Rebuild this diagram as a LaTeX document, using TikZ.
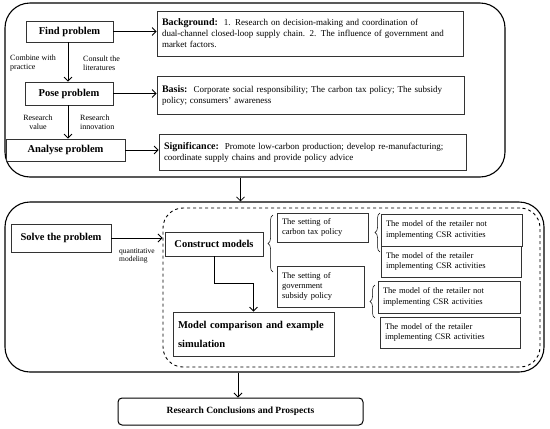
\documentclass[tikz,border=0pt]{standalone}
\usepackage{fontspec}
\setmainfont{Liberation Serif}
\usetikzlibrary{arrows.meta,decorations.pathreplacing,calc}
\begin{document}
\begin{tikzpicture}[x=1pt,y=-1pt,
  box/.style={draw=black!80,line width=0.8pt,inner sep=0pt,anchor=center},
  outer/.style={draw=black,line width=1.1pt,rounded corners=25pt,inner sep=0pt},
  arr/.style={line width=0.8pt,-{Straight Barb[length=4pt,width=8pt]}},
  lbl/.style={font=\fontsize{8}{9}\selectfont,align=left,inner sep=0pt},
  txt/.style={font=\fontsize{9}{11}\selectfont,align=left},
  bt/.style={font=\fontsize{10.5}{12}\selectfont\bfseries},
  brc/.style={decorate,decoration={brace,amplitude=5pt},line width=0.5pt}]
\useasboundingbox (0,0) rectangle (550,429);
% outer frames
\node[outer,minimum width=500pt,minimum height=174pt] (top) at (255,90) {};
\node[outer,minimum width=539pt,minimum height=170pt] (bot) at (274.5,287) {};
\node[draw,dashed,line width=0.9pt,rounded corners=20pt,minimum width=377pt,minimum height=159pt,inner sep=0pt] (dash) at (351.5,287.5) {};
% top part
\node[box,minimum width=87pt,minimum height=21pt,bt] (find) at (69.5,31.5) {Find problem};
\node[box,minimum width=88pt,minimum height=23pt,bt] (pose) at (69,93.5) {Pose problem};
\node[box,minimum width=119pt,minimum height=22pt,bt] (ana) at (65.5,150) {Analyse problem};
\node[box,minimum width=306pt,minimum height=45pt,txt,text width=296pt] (bg) at (310,33.5)
  {\textbf{\fontsize{10}{11}\selectfont Background:}\ \ 1. Research on decision-making and coordination of\\dual-channel closed-loop supply chain. 2. The influence of government and\\market factors.};
\node[box,minimum width=307pt,minimum height=38pt,txt,text width=297pt] (basis) at (310.5,95)
  {\textbf{\fontsize{10}{11}\selectfont Basis:}\ \ Corporate social responsibility; The carbon tax policy; The subsidy\\policy; consumers' awareness};
\node[box,minimum width=307pt,minimum height=36pt,txt,text width=297pt] (sig) at (312.5,152)
  {\textbf{\fontsize{10}{11}\selectfont Significance:}\ \ Promote low-carbon production; develop re-manufacturing;\\coordinate supply chains and provide policy advice};
\draw[arr] (find.east) -- (bg.west |- find.east);
\draw[arr] (pose.east) -- (basis.west |- pose.east);
\draw[arr] (ana.east) -- (sig.west |- ana.east);
\draw[arr] (find.south -| 68,0) -- (pose.north -| 68,0);
\draw[arr] (pose.south -| 68,0) -- (ana.north -| 68,0);
\node[lbl,anchor=west] (l1) at (10,63.5) {Combine with\\practice};
\node[lbl,anchor=west] (l2) at (83,63.5) {Consult the\\literatures};
\node[lbl,align=center] (l3) at (38,122) {Research\\value};
\node[lbl,anchor=west] (l4) at (80,122) {Research\\innovation};
% bottom part
\node[box,minimum width=100pt,minimum height=28pt,bt] (solve) at (61,238) {Solve the problem};
\draw[arr] (solve.east) -- (solve.east -| dash.west);
\node[lbl,anchor=north west,font=\fontsize{7.5}{8.5}\selectfont] (qm) at (119,248) {quantitative\\modeling};
\node[box,minimum width=98pt,minimum height=24pt,bt] (cm) at (214,244) {Construct models};
\node[box,minimum width=161pt,minimum height=44pt,bt,align=left,text width=151pt,font=\fontsize{10.5}{19}\selectfont\bfseries] (mc) at (253.5,334) {Model comparison and example\\simulation};
\draw[arr] (cm.south) -- (cm.south |- 0,283) -| (mc.north);
\node[box,minimum width=91pt,minimum height=29pt,txt,text width=81pt,font=\fontsize{8.5}{10}\selectfont] (ct) at (322.5,227.5) {The setting of\\carbon tax policy};
\node[box,minimum width=87pt,minimum height=41pt,txt,text width=77pt,font=\fontsize{8.5}{10}\selectfont] (gs) at (320.5,286.5) {The setting of\\government\\subsidy policy};
\node[box,minimum width=141pt,minimum height=32pt,txt,text width=131pt,font=\fontsize{8.5}{10.5}\selectfont] (m1) at (451.5,230) {The model of the retailer not\\implementing CSR activities};
\node[box,minimum width=140pt,minimum height=31pt,txt,text width=130pt,font=\fontsize{8.5}{10.5}\selectfont] (m2) at (451,261.5) {The model of the retailer\\implementing CSR activities};
\node[box,minimum width=142pt,minimum height=32pt,txt,text width=132pt,font=\fontsize{8.5}{10.5}\selectfont] (m3) at (449,297) {The model of the retailer not\\implementing CSR activities};
\node[box,minimum width=140pt,minimum height=31pt,txt,text width=130pt,font=\fontsize{8.5}{10.5}\selectfont] (m4) at (450,332.5) {The model of the retailer\\implementing CSR activities};
\draw[brc] (273,272) -- (273,215);
\draw[brc] (380,252) -- (380,213);
\draw[brc] (375,318) -- (375,285);
% final
\node[draw=black,line width=1pt,rounded corners=4pt,minimum width=245pt,minimum height=27pt,inner sep=0pt,font=\fontsize{9.5}{11}\selectfont\bfseries] (fin) at (240.5,411.5) {Research Conclusions and Prospects};
\draw[arr] (top.south -| fin.north) -- (bot.north -| fin.north);
\draw[arr] (bot.south -| 238,0) -- (fin.north -| 238,0);
\end{tikzpicture}
\end{document}
